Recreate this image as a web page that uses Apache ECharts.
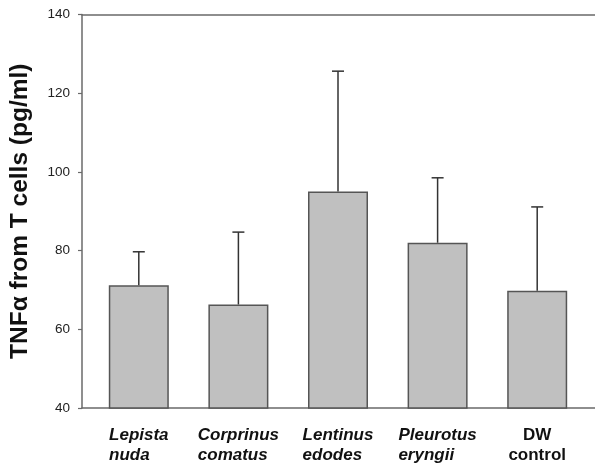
<!DOCTYPE html>
<html>
<head>
<meta charset="utf-8">
<script src="https://cdn.jsdelivr.net/npm/echarts@6/dist/echarts.min.js"></script>
<style>
  html, body { margin: 0; padding: 0; background: #fff; }
  #chart { width: 595px; height: 468px; }
</style>
</head>
<body>
<div id="chart"></div>
<script>
// Species tested (genus / species on two lines); the last one is the control.
const categories = ['Lepista\nnuda', 'Corprinus\ncomatus', 'Lentinus\nedodes', 'Pleurotus\neryngii', 'DW\ncontrol'];
const italicCats = [true, true, true, true, false];
// Mean TNF-alpha (pg/ml) and upper error (SD)
const means = [71.2, 66.3, 95.0, 82.0, 69.8];
const errors = [8.5, 18.4, 30.6, 16.5, 21.3];
// Y axis range
const yMin = 40, yMax = 140, yStep = 20;

const chart = echarts.init(document.getElementById('chart'), null, { renderer: 'canvas' });

const FONT = 'Liberation Sans, Arial, Helvetica, sans-serif';
const TOP = 14.5, BOTTOM = 60;

const errorData = means.map((m, i) => [i, m, m + errors[i]]);

chart.setOption({
  backgroundColor: '#ffffff',
  animation: false,
  grid: [
    // bars
    { left: 89, right: 8, top: TOP, bottom: BOTTOM },
    // frame: left axis, top and bottom rules
    { left: 79, right: 0, top: TOP, bottom: BOTTOM }
  ],
  xAxis: [
    {
      type: 'category', gridIndex: 0, data: categories,
      axisLine: { show: false }, axisTick: { show: false },
      axisLabel: {
        interval: 0, margin: 17,
        formatter: (v, i) => {
          const key = italicCats[i] ? 'it' : 'rg';
          return v.split('\n').map(s => '{' + key + '|' + s + '}').join('\n');
        },
        rich: {
          it: { fontFamily: FONT, fontSize: 17, fontWeight: 'bold', fontStyle: 'italic', color: '#111', lineHeight: 20, align: 'left' },
          rg: { fontFamily: FONT, fontSize: 17, fontWeight: 'bold', color: '#111', lineHeight: 20, align: 'center' }
        }
      }
    },
    {
      type: 'value', gridIndex: 1, min: 0, max: 1, position: 'bottom',
      axisLine: { show: true, lineStyle: { color: '#6a6a6a', width: 1.5 } },
      axisTick: { show: false }, axisLabel: { show: false }, splitLine: { show: false }
    },
    {
      type: 'value', gridIndex: 1, min: 0, max: 1, position: 'top',
      axisLine: { show: true, lineStyle: { color: '#6a6a6a', width: 1.5 } },
      axisTick: { show: false }, axisLabel: { show: false }, splitLine: { show: false }
    }
  ],
  yAxis: [
    { type: 'value', gridIndex: 0, min: yMin, max: yMax, interval: yStep, show: false },
    {
      type: 'value', gridIndex: 1, min: yMin, max: yMax, interval: yStep,
      name: 'TNFα from T cells (pg/ml)',
      nameLocation: 'middle', nameGap: 49,
      nameTextStyle: { fontFamily: FONT, fontSize: 24.5, fontWeight: 'bold', color: '#111' },
      axisLine: { show: true, lineStyle: { color: '#6a6a6a', width: 1.5 } },
      axisTick: { show: true, inside: false, length: 4, lineStyle: { color: '#6a6a6a', width: 1.2 } },
      axisLabel: { fontFamily: FONT, fontSize: 13.5, color: '#222', margin: 12 },
      splitLine: { show: false }
    }
  ],
  series: [
    {
      type: 'bar', xAxisIndex: 0, yAxisIndex: 0,
      data: means, barWidth: 60,
      itemStyle: { color: '#c0c0c0', borderColor: '#555', borderWidth: 1.5 },
      z: 2
    },
    {
      type: 'custom', xAxisIndex: 0, yAxisIndex: 0,
      data: errorData, z: 3,
      renderItem: (params, api) => {
        const idx = api.value(0);
        const base = api.coord([idx, api.value(1)]);
        const top = api.coord([idx, api.value(2)]);
        const half = 6;
        const style = { stroke: '#333', lineWidth: 1.5 };
        return {
          type: 'group',
          children: [
            { type: 'line', shape: { x1: base[0], y1: base[1], x2: top[0], y2: top[1] }, style },
            { type: 'line', shape: { x1: top[0] - half, y1: top[1], x2: top[0] + half, y2: top[1] }, style }
          ]
        };
      }
    }
  ]
});
</script>
</body>
</html>
